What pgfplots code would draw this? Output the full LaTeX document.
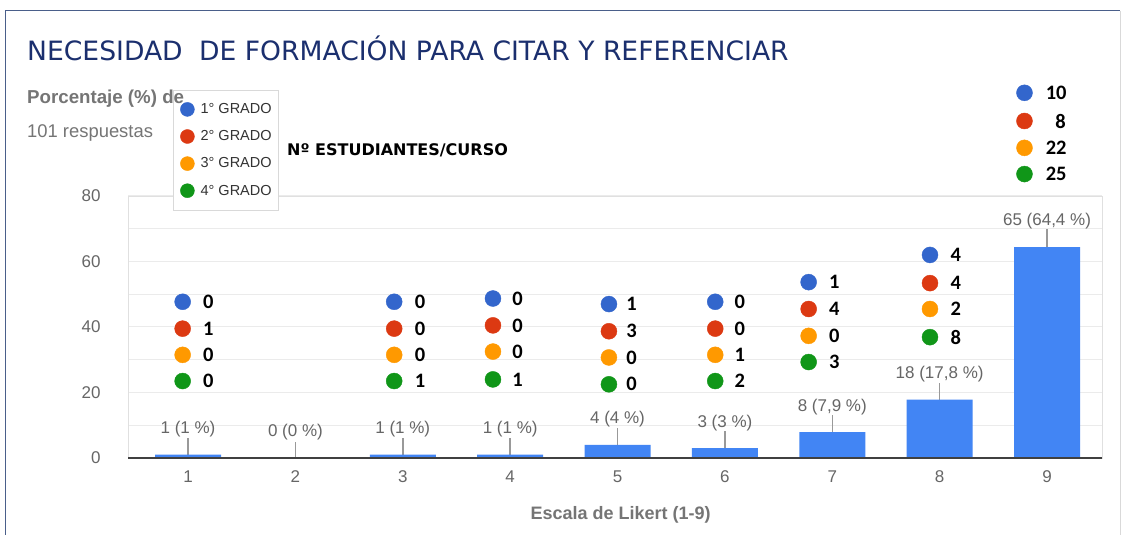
\documentclass[border=0pt]{standalone}
\usepackage{pgfplots}
\pgfplotsset{compat=1.18}
\usepackage{pgfplotstable}
\usepackage{fontspec}
\setmainfont{Liberation Sans}
\newfontfamily\dejavu{DejaVu Sans}
\newfontfamily\carlito{Carlito}
\definecolor{gblue}{HTML}{3366CC}
\definecolor{gred}{HTML}{DC3912}
\definecolor{gorange}{HTML}{FF9900}
\definecolor{ggreen}{HTML}{109618}
\definecolor{barblue}{HTML}{4285F4}
\definecolor{titlecol}{HTML}{1B2F6E}
\definecolor{txtgray}{HTML}{666666}
\definecolor{lblgray}{HTML}{757575}
\definecolor{gridgray}{HTML}{EBEBEB}
\definecolor{framecol}{HTML}{4A5F8A}

% Bars: Likert value, percentage, leader-line top, label
\pgfplotstableread[col sep=semicolon]{
x;y;lead;lab
1;1;6.0;1 (1 \%)
2;0;5.0;0 (0 \%)
3;1;6.0;1 (1 \%)
4;1;6.0;1 (1 \%)
5;4;9.2;4 (4 \%)
6;3;8.2;3 (3 \%)
7;7.9;13.1;8 (7,9 \%)
8;17.8;23.0;18 (17,8 \%)
9;64.4;70.0;65 (64,4 \%)
}\bars

% Students per grade: circle x, number x, y, count
\pgfplotstableread{
xc xn y n
0.95 1.19 47.7 0
2.92 3.16 47.7 0
3.84 4.07 48.7 0
4.92 5.13 47.0 1
5.91 6.14 47.7 0
6.78 7.02 53.7 1
7.91 8.15 62.0 4
8.79 9.085 111.5 10
}\gradeA
\pgfplotstableread{
xc xn y n
0.95 1.19 39.5 1
2.92 3.16 39.5 0
3.84 4.07 40.5 0
4.92 5.13 38.7 3
5.91 6.14 39.5 0
6.78 7.02 45.5 4
7.91 8.15 53.4 4
8.79 9.126 102.9 8
}\gradeB
\pgfplotstableread{
xc xn y n
0.95 1.19 31.5 0
2.92 3.16 31.5 0
3.84 4.07 32.5 0
4.92 5.13 30.7 0
5.91 6.14 31.5 1
6.78 7.02 37.3 0
7.91 8.15 45.5 2
8.79 9.085 94.7 22
}\gradeC
\pgfplotstableread{
xc xn y n
0.95 1.19 23.5 0
2.92 3.16 23.5 1
3.84 4.07 24.0 1
4.92 5.13 22.5 0
5.91 6.14 23.5 2
6.78 7.02 29.3 3
7.91 8.15 36.9 8
8.79 9.085 86.7 25
}\gradeD

\begin{document}
\begin{tikzpicture}
\useasboundingbox (0pt,0pt) rectangle (1129pt,535pt);
\fill[white] (0pt,0pt) rectangle (1129pt,535pt);
\draw[framecol, line width=1pt] (5pt,0pt) -- (5pt,524pt) -- (1120pt,524pt);
\draw[black!15, line width=1pt] (1120pt,524pt) -- (1120pt,0pt);

\begin{axis}[
  at={(128pt,77pt)}, anchor=south west,
  scale only axis, width=974pt, height=262pt,
  xmin=0.441, xmax=9.512, ymin=0, ymax=80,
  xtick={1,2,...,9}, ytick={0,20,...,80}, minor ytick={10,30,50,70},
  ymajorgrids, yminorgrids,
  grid style={gridgray, line width=1pt},
  minor grid style={gridgray, line width=1pt},
  major tick length=0pt, minor tick length=0pt,
  axis line style={draw=black!12},
  tick label style={font=\fontsize{17}{20}\selectfont, text=txtgray},
  /pgf/number format/assume math mode=true,
  yticklabel style={xshift=-24pt},
  xticklabel style={yshift=-9pt},
  xlabel={Escala de Likert (1-9)},
  xlabel style={font=\bfseries\fontsize{18}{21}\selectfont, text=lblgray,
    at={(axis description cs:0.5057,0)}, anchor=center, yshift=-57pt},
  clip=false,
  legend image code/.code={\fill (7pt,0pt) circle (7pt);},
  legend cell align=left,
  legend style={at={(0.0462,1.4046)}, anchor=north west,
    draw=black!15, fill=white, inner xsep=7pt, inner ysep=12pt,
    row sep=12.7pt, /tikz/column sep=6pt,
    font=\fontsize{14.5}{17}\selectfont,
    nodes={inner sep=0pt, text=black!80}},
]
% leader lines
\addplot[ycomb, draw=black!40, line width=1.5pt, mark=none, forget plot]
  table[x=x, y=lead] {\bars};
% bars with labels
\addplot[ybar, bar width=66pt, fill=barblue, draw=none, forget plot,
  nodes near coords, point meta=explicit symbolic,
  nodes near coords align=center,
  every node near coord/.append style={font=\fontsize{17}{20}\selectfont,
    text=txtgray, yshift=25.5pt, inner sep=0pt}]
  table[x=x, y=y, meta=lab] {\bars};

% grade circles and counts
\addplot[only marks, mark=*, mark size=8pt, color=gblue]
  table[x=xc, y=y] {\gradeA};
\addlegendentry{1° GRADO}
\addplot[only marks, mark=*, mark size=8pt, color=gred]
  table[x=xc, y=y] {\gradeB};
\addlegendentry{2° GRADO}
\addplot[only marks, mark=*, mark size=8pt, color=gorange]
  table[x=xc, y=y] {\gradeC};
\addlegendentry{3° GRADO}
\addplot[only marks, mark=*, mark size=8pt, color=ggreen]
  table[x=xc, y=y] {\gradeD};
\addlegendentry{4° GRADO}

\pgfplotsset{numstyle/.style={draw=none, mark=none, forget plot,
  nodes near coords, point meta=explicit symbolic,
  nodes near coords align=center,
  every node near coord/.append style={font=\carlito\bfseries\fontsize{20.5}{24}\selectfont,
    text=black, inner sep=0pt}}}
\addplot[numstyle] table[x=xn, y=y, meta=n] {\gradeA};
\addplot[numstyle] table[x=xn, y=y, meta=n] {\gradeB};
\addplot[numstyle] table[x=xn, y=y, meta=n] {\gradeC};
\addplot[numstyle] table[x=xn, y=y, meta=n] {\gradeD};

% baseline
\addplot[black!75, line width=1.5pt, mark=none, forget plot]
  coordinates {(0.441,0) (9.512,0)};
\end{axis}

\node[anchor=base west, inner sep=0pt, font=\dejavu\fontsize{26.6}{31}\selectfont, text=titlecol]
  at (27pt,474pt) {NECESIDAD\hspace{0.3em} DE FORMACIÓN PARA CITAR Y REFERENCIAR};
\node[anchor=base west, inner sep=0pt, font=\bfseries\fontsize{18.7}{22}\selectfont, text=lblgray]
  at (27pt,431pt) {Porcentaje (\%) de};
\node[anchor=base west, inner sep=0pt, font=\fontsize{18.4}{22}\selectfont, text=lblgray]
  at (27pt,397pt) {101 respuestas};
\node[anchor=base west, inner sep=0pt, font=\dejavu\bfseries\fontsize{16}{19}\selectfont, text=black]
  at (287pt,379pt) {Nº ESTUDIANTES/CURSO};
\end{tikzpicture}
\end{document}
